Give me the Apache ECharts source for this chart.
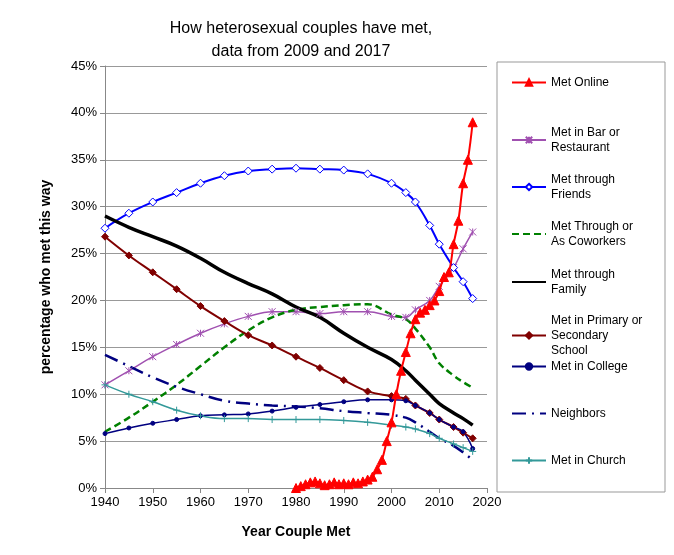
<!DOCTYPE html>
<html><head><meta charset="utf-8">
<script src="https://cdn.jsdelivr.net/npm/echarts@6/dist/echarts.min.js"></script>
<style>html,body{margin:0;background:#fff}#c{width:674px;height:555px}</style>
</head><body><div id="c"></div>
<script>
const years = [1940,1945,1950,1955,1960,1965,1970,1975,1980,1985,1990,1995,2000,2003,2005,2008,2010,2013,2015,2017];
const onlineYears = [1980,1981,1982,1983,1984,1985,1986,1987,1988,1989,1990,1991,1992,1993,1994,1995,1996,1997,1998,1999,2000,2001,2002,2003,2004,2005,2006,2007,2008,2009,2010,2011,2012,2013,2014,2015,2016,2017];
const online = [0,0.2,0.4,0.6,0.7,0.5,0.3,0.4,0.6,0.4,0.5,0.4,0.6,0.5,0.7,0.9,1.2,2,3,5,7,10,12.5,14.5,16.5,18,18.7,19,19.5,20,21,22.5,23,26,28.5,32.5,35,39];
const bar = [11,12.5,14,15.3,16.5,17.5,18.3,18.8,18.8,18.6,18.8,18.8,18.3,18.2,19,20,21.5,23.5,25.5,27.3];
const friends = [27.7,29.3,30.5,31.5,32.5,33.3,33.8,34,34.1,34,33.9,33.5,32.5,31.5,30.5,28,26,23.5,22,20.2];
const coworkers = [6,7.5,9.2,11,13,15,16.8,18.2,19,19.3,19.5,19.6,18.5,18,17,15,13.3,12,11.3,10.7];
const family = [29,27.8,26.8,25.8,24.5,23,21.8,20.7,19.3,18.2,16.5,15,13.7,12.5,11.5,10,9,8,7.4,6.7];
const school = [26.8,24.8,23,21.2,19.4,17.8,16.3,15.2,14,12.8,11.5,10.3,9.8,9.5,8.8,8,7.3,6.5,5.9,5.3];
const college = [5.8,6.4,6.9,7.3,7.7,7.8,7.9,8.2,8.6,8.9,9.2,9.4,9.4,9.3,8.8,8,7.3,6.5,6,4.2];
const neighbors = [14.2,13,11.8,10.8,10,9.3,9,8.8,8.7,8.5,8.2,8,7.8,7.5,7,6,5.3,4.5,3.8,3];
const church = [11,10,9.2,8.3,7.7,7.4,7.4,7.3,7.3,7.3,7.2,7,6.7,6.5,6.3,5.8,5.3,4.7,4.3,3.9];

const pairs = (xs, vs) => xs.map((x, i) => [x, vs[i]]);
const defs = [
  {name:'Met Online', x:onlineYears, v:online, color:'#ff0000', w:2, sym:'triangle', ss:9, top:70},
  {name:'Met in Bar or\nRestaurant', x:years, v:bar, color:'#a050b0', w:1.5, sym:'path://M0,0L10,10M10,0L0,10M5,0L5,10', ss:7, top:120},
  {name:'Met through\nFriends', x:years, v:friends, color:'#0000ff', w:2, sym:'diamond', ss:8, empty:true, top:167},
  {name:'Met Through or\nAs Coworkers', x:years, v:coworkers, color:'#008000', w:2.5, dash:[7,4], sym:'none', top:214},
  {name:'Met through\nFamily', x:years, v:family, color:'#000000', w:3.5, sym:'none', top:262},
  {name:'Met in Primary or\nSecondary\nSchool', x:years, v:school, color:'#800000', w:2, sym:'diamond', ss:7, top:308},
  {name:'Met in College', x:years, v:college, color:'#000080', w:1.5, sym:'circle', ss:4, top:354},
  {name:'Neighbors', x:years, v:neighbors, color:'#000080', w:2.5, dash:[14,6,2,6], sym:'none', top:401},
  {name:'Met in Church', x:years, v:church, color:'#339999', w:1.5, sym:'path://M5,0L5,10M0,5L10,5', ss:7, top:448}
];

const chart = echarts.init(document.getElementById('c'));
chart.setOption({
  animation: false,
  textStyle: {fontFamily: 'Liberation Sans, Arial'},
  title: {text: 'How heterosexual couples have met,\ndata from 2009 and 2017', left: 296, top: 12, textAlign: 'center',
    textStyle: {fontSize: 16, fontWeight: 'normal', lineHeight: 23, color: '#000'}},
  grid: {left: 105, right: 187, top: 66, bottom: 67},
  graphic: [{type: 'rect', shape: {x: 497, y: 62, width: 168, height: 430}, style: {fill: 'none', stroke: '#999', lineWidth: 1}}],
  legend: defs.map(d => ({
    data: [d.sym === 'none' ? {name: d.name, itemStyle: {opacity: 0}} : {name: d.name}],
    orient: 'vertical', left: 506, top: d.top, itemWidth: 34, itemHeight: 8,
    textStyle: {fontSize: 12, color: '#000', lineHeight: 15}})),
  xAxis: {type: 'value', min: 1940, max: 2020, interval: 10,
    name: 'Year Couple Met', nameLocation: 'middle', nameGap: 37, nameTextStyle: {fontSize: 14, fontWeight: 'bold', color: '#000'},
    axisLine: {lineStyle: {color: '#888'}}, axisTick: {lineStyle: {color: '#888'}}, splitLine: {show: false},
    axisLabel: {color: '#000', fontSize: 13, formatter: v => String(v)}},
  yAxis: {type: 'value', min: 0, max: 45, interval: 5,
    name: 'percentage who met this way', nameLocation: 'middle', nameGap: 52, nameTextStyle: {fontSize: 14, fontWeight: 'bold', color: '#000'},
    axisLine: {show: true, lineStyle: {color: '#888'}}, axisTick: {show: true, lineStyle: {color: '#888'}},
    splitLine: {lineStyle: {color: '#999'}}, axisLabel: {color: '#000', fontSize: 13, formatter: '{value}%'}},
  series: defs.map(d => ({
    name: d.name, type: 'line', smooth: 0.4, data: pairs(d.x, d.v),
    symbol: d.sym, symbolSize: d.ss, showSymbol: d.sym !== 'none',
    lineStyle: {color: d.color, width: d.w, type: d.dash || 'solid'},
    itemStyle: {color: d.empty ? '#fff' : d.color, borderColor: d.color, borderWidth: 1},
    z: d.name === 'Met Online' ? 5 : 2
  }))
});
</script></body></html>
